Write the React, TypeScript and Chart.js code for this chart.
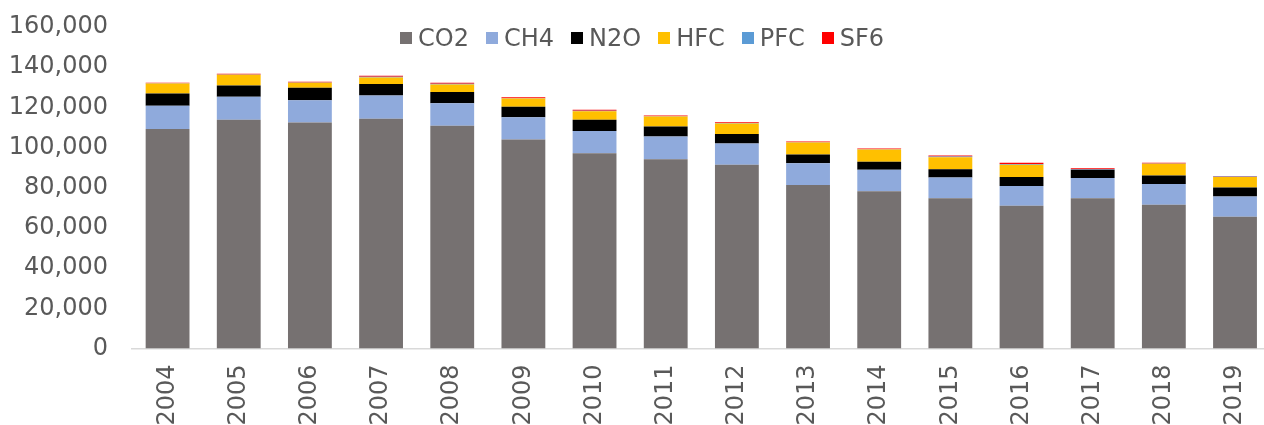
import React, { useEffect, useRef } from "react";
import { Chart, registerables } from "chart.js";

Chart.register(...registerables);

const years = ["2004", "2005", "2006", "2007", "2008", "2009", "2010", "2011", "2012", "2013", "2014", "2015", "2016", "2017", "2018", "2019"];

const co2 = [109300, 113800, 112450, 114300, 110800, 104000, 97200, 94200, 91400, 81400, 78300, 74800, 71100, 74800, 71600, 65600];
const ch4 = [11450, 11450, 11150, 11600, 11300, 11100, 11100, 11300, 10600, 10800, 10600, 10300, 9800, 10000, 10300, 10000];
const n2o = [6150, 5650, 6130, 5700, 5600, 5200, 5500, 5000, 4800, 4300, 4100, 4100, 4500, 4200, 4200, 4500];
const hfc = [4950, 5300, 2500, 3300, 3700, 4100, 4300, 4900, 5200, 6000, 6000, 6000, 6100, 0, 5800, 5300];
const pfc = [100, 150, 100, 300, 300, 200, 200, 150, 250, 150, 150, 300, 350, 200, 150, 150];
const sf6 = [250, 350, 400, 500, 500, 500, 500, 400, 400, 350, 350, 500, 550, 500, 350, 350];

const seriesNames = ["CO2", "CH4", "N2O", "HFC", "PFC", "SF6"];
const seriesColors = ["#767171", "#8FAADC", "#000000", "#FFC000", "#5B9BD5", "#FF0000"];
const seriesValues = [co2, ch4, n2o, hfc, pfc, sf6];

const yTicks = [0, 20000, 40000, 60000, 80000, 100000, 120000, 140000, 160000];

const FONT = '"DejaVu Sans", Verdana, sans-serif';
const TEXT = "#595959";

export default function App() {
  const ref = useRef<HTMLCanvasElement>(null);

  useEffect(() => {
    if (!ref.current) return;
    const chart = new Chart(ref.current, {
      type: "bar",
      data: {
        labels: years,
        datasets: seriesNames.map((name, i) => ({
          label: name,
          data: seriesValues[i],
          backgroundColor: seriesColors[i],
          borderWidth: 0,
          categoryPercentage: 1,
          barPercentage: 0.616,
        })),
      },
      options: {
        responsive: false,
        animation: false,
        layout: { padding: { top: 27, right: 6, left: 0, bottom: 0 } },
        plugins: {
          legend: { display: false },
          tooltip: { enabled: false },
        },
        scales: {
          x: {
            stacked: true,
            grid: { display: false, drawTicks: false },
            border: { display: true, color: "#D9D9D9", width: 1.5 },
            ticks: {
              minRotation: 90,
              maxRotation: 90,
              padding: 16,
              color: TEXT,
              font: { family: FONT, size: 24 },
            },
            afterFit: (s: any) => {
              s.height = 76.5;
            },
          },
          y: {
            stacked: true,
            min: yTicks[0],
            max: yTicks[yTicks.length - 1],
            grid: { display: false, drawTicks: true, tickLength: 24 },
            border: { display: false },
            ticks: {
              stepSize: yTicks[1] - yTicks[0],
              padding: 0,
              color: TEXT,
              font: { family: FONT, size: 24 },
              callback: (v: any) => Number(v).toLocaleString("en-US"),
            },
            afterFit: (s: any) => {
              s.width = 132;
            },
          },
        },
      },
    });
    return () => chart.destroy();
  }, []);

  return (
    <div
      style={{
        position: "fixed",
        left: 0,
        top: 0,
        width: 1264,
        height: 425,
        overflow: "hidden",
        background: "#ffffff",
      }}
    >
      <canvas ref={ref} width={1280} height={425} style={{ display: "block" }} />
      <div
        style={{
          position: "absolute",
          left: 400,
          top: 24,
          display: "flex",
          alignItems: "center",
          fontFamily: FONT,
          fontSize: 24,
          lineHeight: "28px",
          color: TEXT,
          whiteSpace: "nowrap",
        }}
      >
        {seriesNames.map((name, i) => (
          <div key={name} style={{ display: "flex", alignItems: "center", marginRight: 17 }}>
            <span
              style={{
                display: "inline-block",
                width: 12,
                height: 12,
                background: seriesColors[i],
                marginRight: 6,
              }}
            />
            <span>{name}</span>
          </div>
        ))}
      </div>
    </div>
  );
}
